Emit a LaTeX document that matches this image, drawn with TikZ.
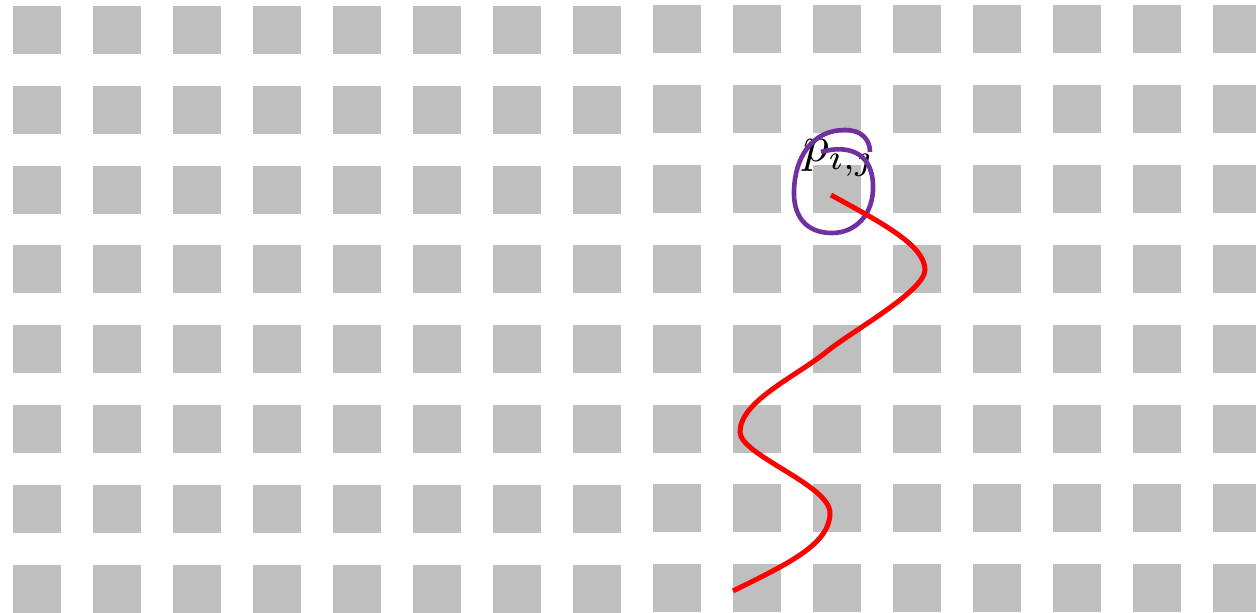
\documentclass[tikz,border=0pt]{standalone}
\begin{document}
\begin{tikzpicture}[x=1pt,y=-1pt,
  cell/.style={fill=cellgray,draw=none},
  redpath/.style={draw=red,line width=5pt,line cap=butt},
  loopline/.style={draw=loopcolor,line width=4.6pt}]
\definecolor{cellgray}{RGB}{191,191,191}
\definecolor{loopcolor}{RGB}{112,48,160}
\useasboundingbox (0,0) rectangle (1256,613);
\foreach \i in {0,...,15}{
  \foreach \j in {0,...,7}{
    \pgfmathsetmacro{\xx}{13+80*\i}
    \pgfmathsetmacro{\yy}{5.7+79.9*\j-(\i>7 ? 0.7 : 0)}
    \fill[cellgray] (\xx,\yy) rectangle ++(48,48);
  }
}
\node[anchor=base west,inner sep=0pt,scale=5.1] (lbl) at (802,161.5) {$p_{\imath,\jmath}$};
\coordinate (s0) at (821,152);
\coordinate (s1) at (873,185);
\coordinate (s2) at (832,233);
\coordinate (s3) at (794,190);
\coordinate (s4) at (845,130);
\coordinate (s5) at (870,152);
\draw[loopline] (s0) .. controls (845,145) and (872,150) .. (s1)
  .. controls (874,215) and (855,233) .. (s2)
  .. controls (805,233) and (793,215) .. (s3)
  .. controls (795,160) and (810,130) .. (s4)
  .. controls (862,130) and (870,140) .. (s5);
\coordinate (A) at (831,195);
\coordinate (B) at (925,270);
\coordinate (C) at (825,353);
\coordinate (D) at (740,432);
\coordinate (E) at (830,513);
\coordinate (F) at (733,591);
\draw[redpath] (A) .. controls (880,222) and (925,245) .. (B)
  .. controls (924,292) and (850,332) .. (C)
  .. controls (793,378) and (740,402) .. (D)
  .. controls (740,455) and (830,485) .. (E)
  .. controls (830,545) and (785,565) .. (F);
\end{tikzpicture}
\end{document}
